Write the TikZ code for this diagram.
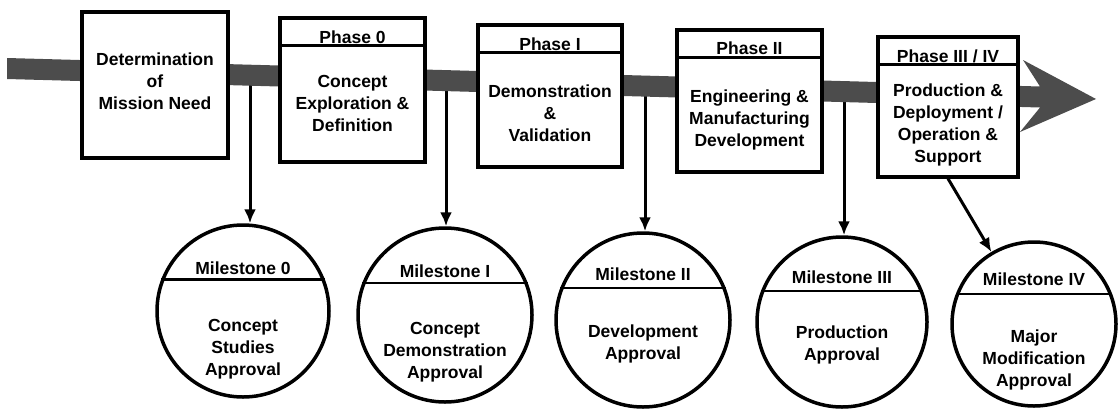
\documentclass[tikz,border=0pt]{standalone}
\usepackage{fontspec}
\setmainfont{Liberation Sans}
\usetikzlibrary{arrows.meta,calc}
\begin{document}
\begin{tikzpicture}[x=1pt,y=-1pt,
  lbl/.style={font=\fontsize{17.5}{22}\selectfont\bfseries, align=center, inner sep=0pt},
  box/.style={draw, line width=3.2pt, fill=white, inner sep=0pt},
  ms/.style={draw, circle, line width=3.5pt, fill=white, inner sep=0pt},
  arr/.style={line width=3pt, -{Latex[length=14pt,width=12pt]}},
  band/.style={fill=black!70},
  divider/.style={line width=2.2pt}]
\useasboundingbox (0,0) rectangle (1118,408);

% milestone circles
\node[ms, minimum size=172pt] (m0) at (243,311) {};
\node[ms, minimum size=174pt] (m1) at (445,315) {};
\node[ms, minimum size=174pt] (m2) at (643,320) {};
\node[ms, minimum size=170pt] (m3) at (842,322) {};
\node[ms, minimum size=164pt] (m4) at (1034,324) {};
\foreach \m in {m0,m1,m2,m3,m4}{\draw[divider] (\m.21) -- (\m.159);}

\node[lbl, anchor=base] (m0h) at (243,274) {Milestone 0};
\node[lbl, anchor=base] (m1h) at (445,277) {Milestone I};
\node[lbl, anchor=base] (m2h) at (643,280) {Milestone II};
\node[lbl, anchor=base] (m3h) at (842,283) {Milestone III};
\node[lbl, anchor=base] (m4h) at (1034,285) {Milestone IV};

\node[lbl, anchor=north] (m0b) at (243,319.4) {Concept\\Studies\\Approval};
\node[lbl, anchor=north] (m1b) at (445,322.4) {Concept\\Demonstration\\Approval};
\node[lbl, anchor=north] (m2b) at (643,324.4) {Development\\Approval};
\node[lbl, anchor=north] (m3b) at (842,325.4) {Production\\Approval};
\node[lbl, anchor=north] (m4b) at (1034,329.4) {Major\\Modification\\Approval};

% start points of connectors on the band
\coordinate (a0) at (250,75);
\coordinate (a1) at (446,81);
\coordinate (a2) at (645,86);
\coordinate (a3) at (844,92);

\draw[arr] (a0) -- (a0 |- m0.north);
\draw[arr] (a1) -- (a1 |- m1.north);
\draw[arr] (a2) -- (a2 |- m2.north);
\draw[arr] (a3) -- (a3 |- m3.north);

% timeline band with arrow head
\fill[band] (7,58) -- (1040,86.5) -- (1023,60) -- (1096,99) -- (1020,132)
  -- (1040,107.5) -- (7,79) -- cycle;

% phase boxes
\node[box, minimum width=146pt, minimum height=146pt] (b1) at (155,85) {};
\node[box, minimum width=145pt, minimum height=144pt] (b2) at (352.5,90) {};
\node[box, minimum width=144pt, minimum height=142pt] (b3) at (550,96) {};
\node[box, minimum width=145pt, minimum height=142pt] (b4) at (749.5,101) {};
\node[box, minimum width=140pt, minimum height=140pt] (b5) at (948,107) {};

\foreach \b in {b2,b3,b4,b5}{\draw[divider] ($(\b.north west)+(0,29)$) -- ($(\b.north east)+(0,29)$);}

\node[lbl, anchor=base] (h2) at (352.5,43) {Phase 0};
\node[lbl, anchor=base] (h3) at (550,50) {Phase I};
\node[lbl, anchor=base] (h4) at (749.5,54) {Phase II};
\node[lbl, anchor=base] (h5) at (948,62) {Phase III / IV};

\node[lbl, anchor=north] (t1) at (155,52.4) {Determination\\of\\Mission Need};
\node[lbl, anchor=north] (t2) at (352.5,75.4) {Concept\\Exploration \&\\Definition};
\node[lbl, anchor=north] (t3) at (550,84.4) {Demonstration\\\&\\Validation};
\node[lbl, anchor=north] (t4) at (749.5,89.4) {Engineering \&\\Manufacturing\\Development};
\node[lbl, anchor=north] (t5) at (948,83.4) {Production \&\\Deployment /\\Operation \&\\Support};

\draw[arr] (b5.south) -- (m4);
\end{tikzpicture}
\end{document}
